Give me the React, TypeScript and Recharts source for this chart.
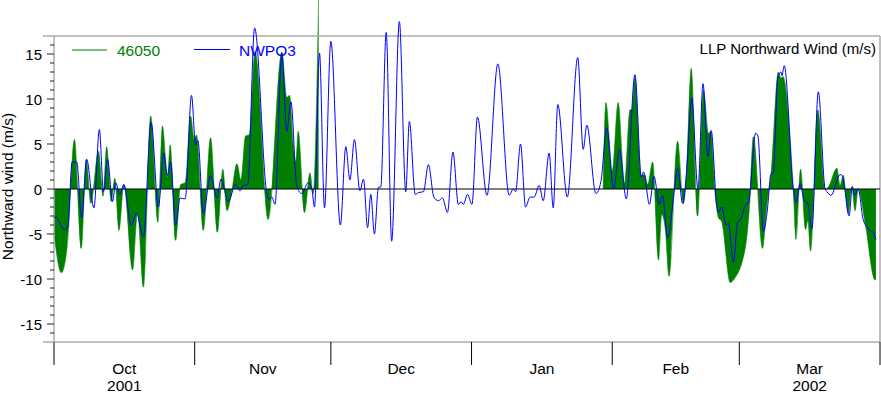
import React from 'react';
import { ComposedChart, Line, Area, XAxis, YAxis, ReferenceLine } from 'recharts';

// Days since 2001-10-01
const monthStarts = [0, 31, 61, 92, 123, 151, 182];
const monthMids = [15.5, 46, 76.5, 107.5, 137, 166.5];
const monthLabels = ['Oct', 'Nov', 'Dec', 'Jan', 'Feb', 'Mar'];
const yearLabels = ['2001', '', '', '', '', '2002'];
const yTicks = Array.from({ length: 35 }, (_, i) => i - 17);

// NWPO3 [day, m/s]
const nwpo3: [number, number][] = [
  [0, -3.2], [0.4, -3.1], [2.2, -4.5], [3.0, -4.4], [4.0, 3.0], [5.0, 3.0], [6.1, -3.2], [7.2, 3.3], [8.8, -2.1],
  [10.0, 6.6], [10.9, -0.3], [11.8, 3.3], [12.9, -1.4], [13.6, 0.7], [14.5, -0.6], [15.4, 0.5], [17.0, -4.0],
  [18.2, -2.7], [19.7, -5.3], [21.4, 7.4], [23.0, -2.0], [24.2, 4.0], [25.0, 1.5], [25.7, 3.0], [26.8, -4.0],
  [27.8, -1.0], [28.9, -1.1], [30.3, 10.4], [31.2, 4.9], [31.7, 5.4], [32.9, -2.7], [34.5, 1.5], [35.9, -1.0],
  [36.8, 1.1], [38.4, -1.4], [40.0, 0.5], [41.0, -0.2], [41.7, 0.4], [42.7, 0.5], [44.2, 17.9], [46.9, -0.5],
  [47.4, -1.2], [48.0, -0.9], [48.7, -1.7], [50.2, 15.1], [51.3, 6.4], [52.2, 9.7], [53.5, 0.3], [54.6, -0.5],
  [56.0, 0.7], [56.8, 0.0], [57.4, -2.0], [58.5, 15.1], [59.6, -2.1], [61.0, 16.4], [63.1, -4.0], [64.3, 4.7],
  [65.2, 1.0], [66.2, 5.5], [67.4, -0.2], [68.2, 1.1], [69.1, -4.3], [69.8, -0.6], [70.6, -5.0], [71.5, 0.2],
  [72.0, 0.2], [73.2, 17.4], [74.4, -5.8], [76.1, 18.6], [77.5, -0.3], [78.3, 7.5], [79.6, -0.6], [80.3, -0.4],
  [81.4, -0.3], [82.5, 2.7], [83.7, -0.9], [84.7, -1.3], [85.6, -1.0], [86.7, -2.6], [87.9, 4.1], [89.1, -1.7],
  [89.7, -1.4], [90.2, -1.7], [91.1, -0.6], [92.1, -1.7], [93.3, 8.0], [95.4, -0.7], [97.8, 13.9], [100.3, -0.7],
  [101.2, 0.0], [101.7, -0.3], [102.8, 5.0], [103.9, -2.0], [104.9, -0.9], [105.8, -0.9], [106.9, 0.4],
  [107.8, -1.3], [109.1, 4.0], [110.0, -2.1], [111.0, 9.4], [113.1, -0.9], [115.4, 14.6], [116.6, 4.4],
  [117.4, 7.1], [119.4, -0.5], [120.5, 0.8], [121.8, 6.8], [123.3, 0.0], [124.6, 4.4], [126.1, -1.1],
  [128.0, 12.7], [129.4, 1.3], [129.9, 1.9], [131.2, -1.7], [132.2, 1.4], [133.4, -1.7], [134.1, -0.7],
  [135.2, -5.4], [136.7, -0.1], [137.4, 2.3], [138.5, -1.6], [139.4, 2.0], [140.5, 10.1], [141.9, 0.0],
  [143.0, 11.7], [144.1, 3.6], [144.8, 6.5], [146.0, -1.7], [146.4, -2.6], [147.1, -2.0], [148.1, -4.0],
  [148.6, -3.8], [149.7, -8.2], [150.6, -3.7], [151.4, -3.3], [152.4, -1.7], [153.0, -1.6], [154.6, 6.2],
  [155.1, 5.9], [156.3, -4.7], [157.1, -2.7], [158.0, 1.7], [158.5, 1.8], [159.5, 12.5], [160.2, 13.0],
  [160.4, 12.6], [160.9, 13.7], [162.9, 0.0], [163.5, -1.5], [164.4, 0.6], [165.3, -1.3], [166.0, -1.5],
  [167.0, -4.4], [168.4, 10.8], [169.9, 0.0], [170.3, -0.3], [171.2, -0.7], [173.2, 1.6], [173.7, 1.5],
  [174.2, 0.1], [175.2, -3.0], [175.9, 0.3], [176.4, -0.7], [177.2, 0.0], [178.3, -3.4], [179.8, -4.6],
  [180.5, -4.8], [181.1, -5.6],
];

// 46050 first segment [day, m/s]
const buoyA: [number, number][] = [
  [0, -4.9], [1.6, -9.3], [2.9, -6.4], [4.5, 5.5], [6.0, -6.6], [7.1, 3.3], [8.1, -1.6], [9.8, 4.2], [10.8, -0.8],
  [11.6, 4.7], [12.6, -1.4], [13.4, 1.2], [14.3, -4.6], [15.4, 0.5], [17.3, -9.0], [18.4, -2.7], [19.7, -10.9],
  [21.3, 8.1], [22.9, -3.7], [23.9, 7.0], [25.0, 1.3], [25.6, 4.9], [26.8, -5.7], [27.9, 0.5], [28.9, 0.7],
  [30.1, 8.1], [30.9, 5.5], [31.4, 6.0], [32.9, -4.6], [34.5, 5.7], [36.0, -4.8], [37.2, 2.2], [38.1, -2.4],
  [39.0, -0.8], [40.3, 2.8], [41.2, 1.0], [42.2, 5.9], [43.0, 6.0], [44.3, 15.3], [47.2, -3.4], [50.2, 15.2],
  [51.3, 10.2], [51.9, 10.4], [52.7, 5.0], [53.3, 3.0], [53.8, 6.4], [55.2, -2.6], [56.4, 1.8], [57.1, -0.5],
  [58.3, 21.0],
];

// 46050 second segment [day, m/s]
const buoyB: [number, number][] = [
  [121.0, 0.0], [121.6, 9.6], [123.0, 2.0], [124.3, 9.6], [125.7, 0.6], [126.9, 8.8], [127.3, 8.8], [128.0, 12.4],
  [129.4, 1.5], [130.1, 1.6], [130.8, 0.5], [131.9, 3.0], [133.2, -7.9], [133.9, -2.8], [134.7, -4.5],
  [135.5, -9.7], [137.4, 5.3], [138.7, -1.6], [139.4, 2.2], [140.4, 13.4], [141.8, -3.0], [143.1, 11.0],
  [144.2, 6.2], [144.7, 6.4], [145.7, -0.7], [146.4, -3.2], [147.1, -3.6], [149.0, -10.4], [149.7, -10.1],
  [152.3, -6.6], [153.2, -2.2], [154.1, 5.8], [156.1, -6.6], [157.1, -1.6], [158.0, 1.7], [159.6, 13.0],
  [160.2, 12.3], [160.6, 12.5], [162.9, 0.0], [163.5, -5.6], [164.5, 2.2], [165.6, -4.5], [166.1, -3.5],
  [166.7, -6.9], [168.3, 8.8], [169.9, 0.0], [170.6, 0.2], [172.5, 2.3], [173.2, 0.4], [173.9, 1.5],
  [175.0, -2.7], [175.8, 0.2], [176.5, -2.4], [177.2, 0.0], [178.7, -3.7], [180.9, -10.1], [181.1, -10.0],
];

const toRows = (arr: [number, number][]) => arr.map(([t, v]) => ({ t, v }));
const blueData = toRows(nwpo3);
const greenA = toRows(buoyA);
const greenB = toRows(buoyB);

const FONT = 'Liberation Sans, Arial, Helvetica, sans-serif';
const GREEN = '#008000';
const BLUE = '#0000ff';
const FRAME = '#ababab';

const YTick = (props: any) => {
  const { y, payload } = props;
  const v = payload.value;
  const edge = Math.abs(v) === 17;
  const major = v % 5 === 0;
  const len = edge ? 11 : major ? 7 : 4;
  return (
    <g>
      <line x1={54 - len} x2={54} y1={y} y2={y} stroke={edge ? FRAME : '#222'} strokeWidth={edge ? 1.5 : 1} />
      {major && !edge ? (
        <text x={42} y={y + 5.5} textAnchor="end" fontSize={15} fontFamily={FONT} fill="#000">
          {v}
        </text>
      ) : null}
    </g>
  );
};

const XTick = (props: any) => {
  const { x, payload } = props;
  const v = payload.value;
  const si = monthStarts.indexOf(v);
  if (si >= 0) {
    return <line x1={x} x2={x} y1={342} y2={365} stroke="#000" strokeWidth={1} />;
  }
  const mi = monthMids.indexOf(v);
  if (mi < 0) return null;
  return (
    <g>
      <text x={x} y={373.5} textAnchor="middle" fontSize={15.5} fontFamily={FONT} fill="#000">
        {monthLabels[mi]}
      </text>
      {yearLabels[mi] ? (
        <text x={x} y={390.5} textAnchor="middle" fontSize={15.5} fontFamily={FONT} fill="#000">
          {yearLabels[mi]}
        </text>
      ) : null}
    </g>
  );
};

const YLabel = () => (
  <text
    x={13}
    y={186.5}
    transform="rotate(-90, 13, 186.5)"
    textAnchor="middle"
    fontSize={15.5}
    fontFamily={FONT}
    fill="#000"
  >
    Northward wind (m/s)
  </text>
);

export default function App() {
  return (
    <div style={{ position: 'absolute', left: 0, top: 0, width: 881, height: 393, background: '#fff' }}>
      <ComposedChart width={881} height={393} margin={{ top: 0, right: 1, bottom: 0, left: 0 }}>
        <XAxis
          dataKey="t"
          type="number"
          domain={[0, 182]}
          allowDataOverflow
          ticks={[...monthStarts, ...monthMids]}
          interval={0}
          height={51}
          tickLine={false}
          axisLine={{ stroke: FRAME, strokeWidth: 1.5 }}
          tick={<XTick />}
        />
        <YAxis
          type="number"
          domain={[-17, 21]}
          allowDataOverflow
          ticks={yTicks}
          interval={0}
          width={54}
          tickLine={false}
          axisLine={false}
          tick={<YTick />}
          label={<YLabel />}
        />
        <ReferenceLine y={17} stroke={FRAME} strokeWidth={1.5} />
        <ReferenceLine segment={[{ x: 0, y: -17 }, { x: 0, y: 17 }]} stroke={FRAME} strokeWidth={1.5} />
        <ReferenceLine segment={[{ x: 182, y: -17 }, { x: 182, y: 17 }]} stroke={FRAME} strokeWidth={1.5} />
        <Area
          data={greenA}
          dataKey="v"
          type="monotone"
          baseValue={0}
          fill={GREEN}
          fillOpacity={1}
          stroke={GREEN}
          strokeWidth={0.6}
          dot={false}
          activeDot={false}
          isAnimationActive={false}
        />
        <Area
          data={greenB}
          dataKey="v"
          type="monotone"
          baseValue={0}
          fill={GREEN}
          fillOpacity={1}
          stroke={GREEN}
          strokeWidth={0.6}
          dot={false}
          activeDot={false}
          isAnimationActive={false}
        />
        <ReferenceLine y={0} stroke="#000" strokeWidth={1.2} />
        <Line
          data={blueData}
          dataKey="v"
          type="monotone"
          stroke={BLUE}
          strokeWidth={1}
          dot={false}
          activeDot={false}
          isAnimationActive={false}
        />
      </ComposedChart>
      <svg
        width={881}
        height={70}
        style={{ position: 'absolute', left: 0, top: 0, pointerEvents: 'none' }}
      >
        <line x1={72} x2={107} y1={50} y2={50} stroke={GREEN} strokeWidth={1} />
        <text x={117} y={56} fontSize={15.5} fontFamily={FONT} fill={GREEN}>46050</text>
        <line x1={194} x2={230} y1={49.5} y2={49.5} stroke={BLUE} strokeWidth={1} />
        <text x={239} y={56} fontSize={15.5} fontFamily={FONT} fill={BLUE}>NWPO3</text>
        <text x={876} y={54} textAnchor="end" fontSize={15} fontFamily={FONT} fill="#000">
          LLP Northward Wind (m/s)
        </text>
      </svg>
    </div>
  );
}
